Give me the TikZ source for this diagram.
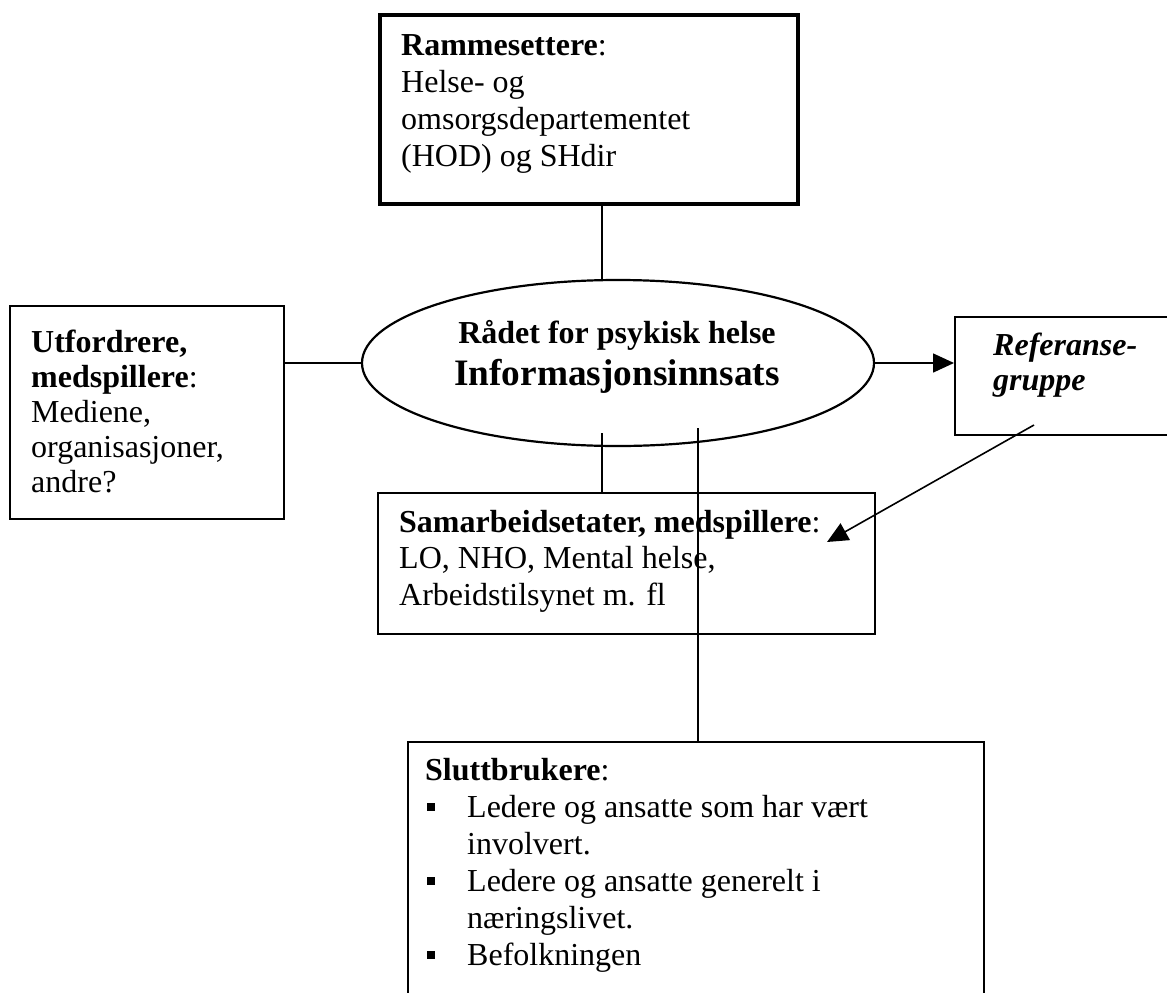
\documentclass[tikz,border=0pt]{standalone}
\usepackage{fontspec}
\setmainfont{Liberation Serif}
\usetikzlibrary{arrows.meta,shapes.geometric}
\newcommand{\fstrut}{\rule{0pt}{26pt}}
\newcommand{\bul}{\makebox[42pt][l]{\hspace*{1.5pt}\rule[6.5pt]{8pt}{8pt}}}
\begin{document}
\begin{tikzpicture}[x=1pt,y=-1pt,
  box/.style={draw, line width=1.6pt, rectangle, inner sep=0pt, anchor=north west},
  txt/.style={inner sep=0pt, anchor=north west, align=left, font=\fontsize{32}{37}\selectfont},
  conn/.style={line width=1.6pt},
  arr/.style={line width=1.6pt, -{Triangle[length=21pt,width=19pt]}}]
\useasboundingbox (0,0) rectangle (1167,993);
\fill[white] (0,0) rectangle (1167,993);
% boxes
\node[box, line width=3.6pt, minimum width=418pt, minimum height=189pt] (ramme) at (378,13) {};
\node[box, minimum width=274pt, minimum height=213pt] (utf) at (9,305) {};
\node[box, minimum width=240pt, minimum height=118pt] (ref) at (954,316) {};
\node[box, minimum width=497pt, minimum height=141pt] (samarb) at (377,492) {};
\node[box, minimum width=576pt, minimum height=280pt] (slutt) at (407,741) {};
\node[draw, ellipse, line width=2.2pt, minimum width=512pt, minimum height=166pt, inner sep=0pt] (raad) at (618,363) {};
% texts
\node[txt] (rammeT) at (401,29) {\fstrut\textbf{Rammesettere}:\\Helse- og\\omsorgsdepartementet\\(HOD) og SHdir};
\node[txt, font=\fontsize{32}{35}\selectfont] (utfT) at (31,326) {\fstrut\textbf{Utfordrere,}\\\textbf{medspillere}:\\Mediene,\\organisasjoner,\\andre?};
\node[txt, font=\fontsize{32}{35}\selectfont\bfseries\itshape] (refT) at (993,329) {\fstrut Referanse-\\gruppe};
\node[txt, font=\fontsize{32}{36.7}\selectfont] (samT) at (399,506) {\fstrut\textbf{Samarbeidsetater, medspillere}:\\LO, NHO, Mental helse,\\Arbeidstilsynet m. fl};
\node[txt] (sluttT) at (425,754) {\fstrut\textbf{Sluttbrukere}:\\
\bul Ledere og ansatte som har vært\\
\hspace*{42pt}involvert.\\
\bul Ledere og ansatte generelt i\\
\hspace*{42pt}næringslivet.\\
\bul Befolkningen};
\node[inner sep=0pt, anchor=north, align=center, font=\fontsize{32}{42}\selectfont\bfseries] (raadT) at (617,317) {\fstrut Rådet for psykisk helse\\{\fontsize{37.3}{42}\selectfont Informasjonsinnsats}};
% connectors
\coordinate (t1) at (602,0);
\draw[conn] (ramme.south -| t1) -- (raad.north -| t1);
\draw[conn] (utf.east |- raad.west) -- (raad.west);
\draw[arr] (raad.east) -- (ref.west |- raad.east);
\coordinate (b1) at (602,433);
\draw[conn] (b1) -- (b1 |- samarb.north);
\coordinate (b2) at (698,428);
\draw[conn] (b2) -- (b2 |- slutt.north);
\coordinate (d1) at (1034,425);
\coordinate (d2) at (827,542);
\draw[arr] (d1) -- (d2);
\end{tikzpicture}
\end{document}
